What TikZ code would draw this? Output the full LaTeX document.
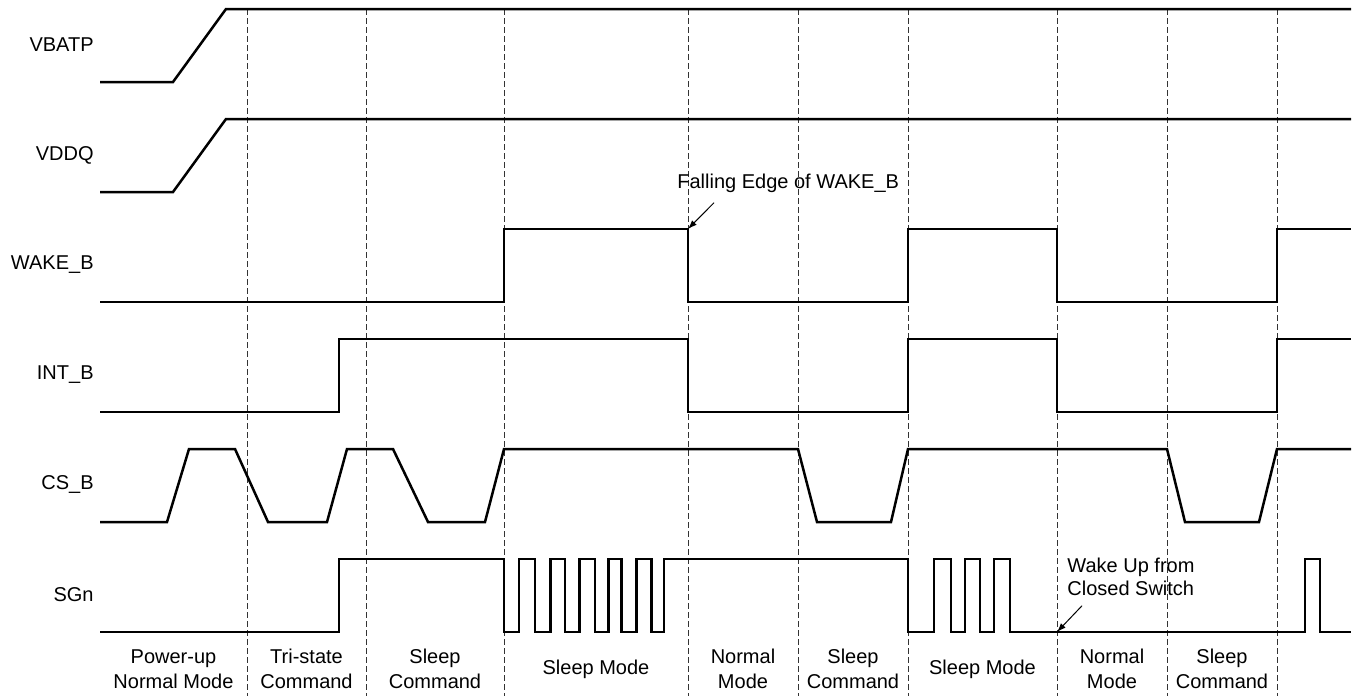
\documentclass[tikz,border=0pt]{standalone}
\usepackage{fontspec}
\setmainfont{Liberation Sans}
\usetikzlibrary{arrows.meta}

\begin{document}
\begin{tikzpicture}[x=0.5pt, y=-0.5pt,
  every node/.style={font=\fontsize{10}{12.5}\selectfont, inner sep=0pt},
  sig/.style={line width=1.25pt, line join=miter},
  divider/.style={black!80, line width=0.5pt, dash pattern=on 3pt off 1.5pt},
  siglabel/.style={anchor=east},
  phase/.style={align=center},
  note/.style={align=left, anchor=west},
  arr/.style={-{Latex[length=4.5pt,width=3.2pt]}, line width=0.5pt}]
\useasboundingbox (0,0) rectangle (1362,696);

% phase boundaries
\foreach \x in {247,366,504,688,798,908,1057,1167,1277}
  \draw[divider] (\x,9) -- (\x,696);

% signal names
\foreach \n/\y/\t in {1/45/VBATP, 2/155/VDDQ, 3/265/{WAKE\_B},
                      4/375/{INT\_B}, 5/485/{CS\_B}, 6/595/SGn}
  \node[siglabel] (sig\n) at (94,\y) {\t};

% waveforms
\draw[sig] (100,82) -- (173,82) -- (226,9) -- (1351,9);
\draw[sig] (100,192) -- (173,192) -- (226,119) -- (1351,119);
\draw[sig] (100,302) -| (504,229) -| (688,302) -| (908,229) -| (1057,302) -| (1277,229) -- (1351,229);
\draw[sig] (100,412) -| (339,339) -| (688,412) -| (908,339) -| (1057,412) -| (1277,339) -- (1351,339);
\draw[sig] (100,522) -- (167,522) -- (189,449) -- (235,449) -- (268,522) -- (327,522)
  -- (347,449) -- (393,449) -- (428,522) -- (485,522) -- (504,449) -- (798,449)
  -- (817,522) -- (891,522) -- (908,449) -- (1167,449) -- (1185,522) -- (1259,522)
  -- (1277,449) -- (1351,449);
\draw[sig] (100,632) -| (339,559) -| (504,632) -| (519,559) -| (535,632) -| (550.5,559)
  -| (565,632) -| (579.5,559) -| (595,632) -| (608.5,559) -| (621.5,632) -| (636.5,559)
  -| (651.5,632) -| (664,559) -| (908,632) -| (934,559) -| (951,632) -| (965,559)
  -| (980,632) -| (994,559) -| (1010,632) -| (1305,559) -| (1320,632) -- (1351,632);

% annotations
\node[note] (fall) at (677,183) {Falling Edge of WAKE\_B};
\coordinate (fallTip) at (688,229);
\draw[arr] ([xshift=18.5pt,yshift=-5pt]fall.south west) -- (fallTip);

\node[note, font=\fontsize{10}{11.5}\selectfont] (wake) at (1067,576.5) {Wake Up from\\Closed Switch};
\coordinate (wakeTip) at (1057,632);
\draw[arr] ([xshift=7.5pt,yshift=-5pt]wake.south west) -- (wakeTip);

% phase names
\foreach \n/\x/\t in {1/173.5/{Power-up\\Normal Mode}, 2/306.5/{Tri-state\\Command},
                      3/435/{Sleep\\Command}, 4/596/{Sleep Mode}, 5/743/{Normal\\Mode},
                      6/853/{Sleep\\Command}, 7/982.5/{Sleep Mode}, 8/1112/{Normal\\Mode},
                      9/1222/{Sleep\\Command}}
  \node[phase] (ph\n) at (\x,669) {\t};
\end{tikzpicture}
\end{document}
